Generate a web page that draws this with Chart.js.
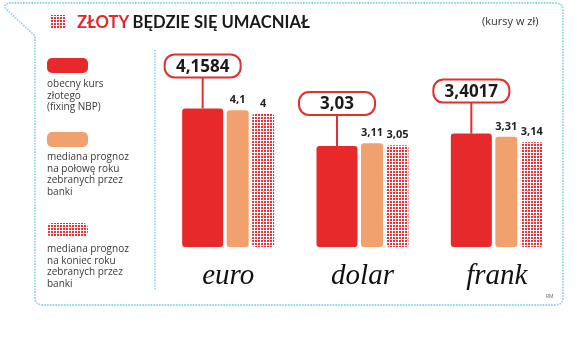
<!DOCTYPE html>
<html lang="pl">
<head>
<meta charset="utf-8">
<script src="https://cdn.jsdelivr.net/npm/chart.js@4.4.1/dist/chart.umd.min.js"></script>
<style>
  html,body{margin:0;padding:0;background:#fff;}
  #wrap{position:relative;width:578px;height:360px;overflow:hidden;}
  #c{position:absolute;left:0;top:0;}
  #frame{position:absolute;left:0;top:0;}
  .title{position:absolute;left:77px;top:12px;height:20px;line-height:20px;font-family:Lato,sans-serif;font-weight:700;font-size:16.6px;color:#1a1a1a;white-space:nowrap;}
  .title .red{color:#e3262b;}
  .icon{position:absolute;left:50px;top:15px;width:16px;height:14px;}
  .dots{background:repeating-linear-gradient(90deg,#fff 0 1px,transparent 1px 3px),repeating-linear-gradient(0deg,#fff 0 1px,#e8333a 1px 3px);}
  .unit{position:absolute;left:482px;top:13px;line-height:15px;font-family:"Open Sans",sans-serif;font-size:11px;color:#333;white-space:nowrap;}
  .sw{position:absolute;left:47px;width:41px;border-radius:5px;}
  .lt{position:absolute;left:47px;font-family:"Open Sans",sans-serif;font-size:10px;line-height:11.7px;color:#3a3a3a;white-space:nowrap;}
  .rm{position:absolute;left:546px;top:293px;font-family:"Open Sans",sans-serif;font-size:5px;color:#666;}
</style>
</head>
<body>
<div id="wrap">
  <svg id="frame" width="578" height="360">
    <path d="M 9 3 L 555 3 Q 563 3 563 11 L 563 297 Q 563 305 555 305 L 43 305 Q 35 305 35 297 L 35 36 L 6 9 Q 3 4 9 3 Z" fill="none" stroke="#8ad6ef" stroke-width="1.8" stroke-dasharray="1.6 1.2"/>
    <line x1="155" y1="50" x2="155" y2="290" stroke="#8ad6ef" stroke-width="1.6" stroke-dasharray="1.6 1.2"/>
  </svg>
  <canvas id="c" width="578" height="360"></canvas>
  <div class="icon dots"></div>
  <div class="title"><span class="red">ZŁOTY</span> BĘDZIE SIĘ UMACNIAŁ</div>
  <div class="unit">(kursy w zł)</div>
  <div class="sw" style="top:58px;height:15px;background:#e8292b;"></div>
  <div class="lt" style="top:78px;">obecny kurs<br>złotego<br>(fixing NBP)</div>
  <div class="sw" style="top:132px;height:15px;background:#f0a16d;"></div>
  <div class="lt" style="top:151px;">mediana prognoz<br>na połowę roku<br>zebranych przez<br>banki</div>
  <div class="sw dots" style="top:223px;height:14px;"></div>
  <div class="lt" style="top:243px;">mediana prognoz<br>na koniec roku<br>zebranych przez<br>banki</div>
  <div class="rm">RM</div>
</div>
<script>
// ---- data ----
const categories = ['euro', 'dolar', 'frank'];
const currentRate = [4.1584, 3.03, 3.4017];   // obecny kurs złotego (fixing NBP)
const midYearForecast = [4.1, 3.11, 3.31];     // mediana prognoz na połowę roku
const endYearForecast = [4, 3.05, 3.14];       // mediana prognoz na koniec roku

// ---- styles ----
const barWidths = [41, 22, 22];
const barGap = 3.5;
const RED = '#e8292b', ORANGE = '#f0a16d';

function dotPattern(ctx) {
  const p = document.createElement('canvas');
  p.width = 3; p.height = 3;
  const pc = p.getContext('2d');
  pc.fillStyle = '#fff'; pc.fillRect(0, 0, 3, 3);
  pc.fillStyle = '#e8333a'; pc.fillRect(0, 0, 2, 2);
  return ctx.createPattern(p, 'repeat');
}
const fmt = v => String(v).replace('.', ',');

function roundRect(ctx, x, y, w, h, r) {
  ctx.beginPath();
  ctx.moveTo(x + r, y);
  ctx.arcTo(x + w, y, x + w, y + h, r);
  ctx.arcTo(x + w, y + h, x, y + h, r);
  ctx.arcTo(x, y + h, x, y, r);
  ctx.arcTo(x, y, x + w, y, r);
  ctx.closePath();
}

const packBars = {
  id: 'packBars',
  afterDatasetsUpdate(chart) {
    const xs = chart.scales.x;
    const total = barWidths.reduce((a, b) => a + b, 0) + barGap * (barWidths.length - 1);
    categories.forEach((c, i) => {
      let left = xs.getPixelForValue(i) - total / 2;
      chart.data.datasets.forEach((ds, d) => {
        const el = chart.getDatasetMeta(d).data[i];
        el.x = left + barWidths[d] / 2;
        el.width = barWidths[d];
        left += barWidths[d] + barGap;
      });
    });
  }
};

const valueLabels = {
  id: 'valueLabels',
  afterDatasetsDraw(chart) {
    const ctx = chart.ctx;
    ctx.save();
    // bubbles for current rate
    chart.getDatasetMeta(0).data.forEach((el, i) => {
      const bw = 76, bh = 23, gap = 31;
      const bottom = el.y - gap;
      ctx.strokeStyle = '#e0302f';
      ctx.lineWidth = 2;
      ctx.beginPath();
      ctx.moveTo(el.x, bottom);
      ctx.lineTo(el.x, el.y);
      ctx.stroke();
      roundRect(ctx, el.x - bw / 2, bottom - bh, bw, bh, 10);
      ctx.fillStyle = '#fff';
      ctx.fill();
      ctx.stroke();
      ctx.fillStyle = '#1a1a1a';
      ctx.font = 'bold 17px "Open Sans"';
      ctx.textAlign = 'center';
      ctx.textBaseline = 'middle';
      ctx.fillText(fmt(currentRate[i]), el.x, bottom - bh / 2 + 1);
    });
    // small labels for forecasts
    [1, 2].forEach(d => {
      const vals = chart.data.datasets[d].data;
      chart.getDatasetMeta(d).data.forEach((el, i) => {
        ctx.fillStyle = '#222';
        ctx.font = 'bold 11px "Open Sans"';
        ctx.textAlign = 'center';
        ctx.textBaseline = 'middle';
        ctx.fillText(fmt(vals[i]), el.x, el.y - 10);
      });
    });
    ctx.restore();
  }
};

const ctx = document.getElementById('c').getContext('2d');
new Chart(ctx, {
  type: 'bar',
  data: {
    labels: categories,
    datasets: [
      { label: 'obecny kurs złotego (fixing NBP)', data: currentRate, backgroundColor: RED },
      { label: 'mediana prognoz na połowę roku zebranych przez banki', data: midYearForecast, backgroundColor: ORANGE },
      { label: 'mediana prognoz na koniec roku zebranych przez banki', data: endYearForecast, backgroundColor: dotPattern(ctx) }
    ]
  },
  options: {
    responsive: false,
    animation: false,
    devicePixelRatio: 1,
    layout: { padding: { left: 161, right: 14, top: 47, bottom: 65 } },
    datasets: { bar: { borderRadius: 3, borderSkipped: false } },
    plugins: { legend: { display: false }, tooltip: { enabled: false } },
    scales: {
      x: {
        grid: { display: false, drawTicks: false },
        border: { display: false },
        ticks: { font: { family: 'Liberation Serif', style: 'italic', size: 29 }, color: '#111', padding: 12 },
        afterFit(s) { s.height = 48; }
      },
      y: { display: false, min: 0, max: 6 }
    }
  },
  plugins: [packBars, valueLabels]
});
</script>
</body>
</html>
